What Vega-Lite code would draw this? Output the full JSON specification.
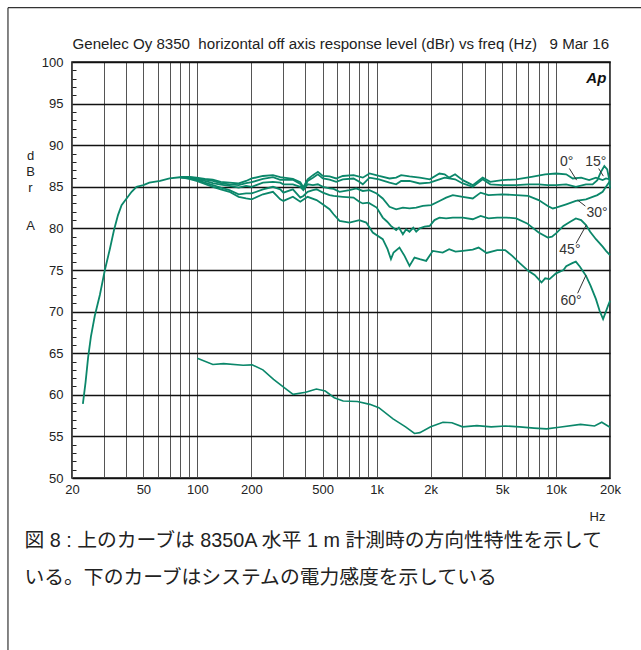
{
  "$schema": "https://vega.github.io/schema/vega-lite/v6.json",
  "width": 538,
  "height": 416,
  "autosize": "none",
  "padding": {"left": 72, "top": 62, "right": 31, "bottom": 172},
  "background": "white",
  "config": {"view": {"stroke": "#111", "strokeWidth": 1.6}},
  "resolve": {"axis": {"x": "independent", "y": "independent"}},
  "datasets": {
    "upper": [
      {"angle":"0°","f":23,"db":58.9},{"angle":"0°","f":23.8,"db":61.5},{"angle":"0°","f":24.6,"db":64.5},{"angle":"0°","f":25.5,"db":67.0},{"angle":"0°","f":26.8,"db":69.5},{"angle":"0°","f":28.6,"db":72.0},{"angle":"0°","f":30.5,"db":75.0},{"angle":"0°","f":32.5,"db":77.5},{"angle":"0°","f":34.3,"db":79.8},{"angle":"0°","f":36.1,"db":81.6},{"angle":"0°","f":37.8,"db":82.8},{"angle":"0°","f":40.3,"db":83.6},{"angle":"0°","f":43,"db":84.4},{"angle":"0°","f":45.8,"db":85.0},{"angle":"0°","f":50,"db":85.2},{"angle":"0°","f":54,"db":85.5},{"angle":"0°","f":62,"db":85.7},{"angle":"0°","f":70,"db":86.0},{"angle":"0°","f":80,"db":86.15},{"angle":"0°","f":90,"db":86.2},{"angle":"0°","f":99,"db":86.1},{"angle":"0°","f":110,"db":85.95},{"angle":"0°","f":122,"db":85.85},{"angle":"0°","f":135,"db":85.6},{"angle":"0°","f":151,"db":85.5},{"angle":"0°","f":170,"db":85.4},{"angle":"0°","f":187,"db":85.7},{"angle":"0°","f":201,"db":86.0},{"angle":"0°","f":232,"db":86.3},{"angle":"0°","f":264,"db":86.4},{"angle":"0°","f":290,"db":86.15},{"angle":"0°","f":341,"db":85.95},{"angle":"0°","f":375,"db":85.55},{"angle":"0°","f":390,"db":84.95},{"angle":"0°","f":412,"db":85.9},{"angle":"0°","f":441,"db":86.4},{"angle":"0°","f":470,"db":86.8},{"angle":"0°","f":501,"db":86.3},{"angle":"0°","f":546,"db":86.25},{"angle":"0°","f":595,"db":86.0},{"angle":"0°","f":647,"db":86.3},{"angle":"0°","f":743,"db":86.4},{"angle":"0°","f":837,"db":86.1},{"angle":"0°","f":912,"db":86.6},{"angle":"0°","f":1030,"db":86.3},{"angle":"0°","f":1179,"db":86.0},{"angle":"0°","f":1284,"db":86.1},{"angle":"0°","f":1369,"db":86.4},{"angle":"0°","f":1524,"db":86.25},{"angle":"0°","f":1738,"db":86.1},{"angle":"0°","f":1978,"db":85.9},{"angle":"0°","f":2239,"db":86.6},{"angle":"0°","f":2393,"db":86.5},{"angle":"0°","f":2536,"db":86.1},{"angle":"0°","f":2736,"db":86.5},{"angle":"0°","f":3019,"db":85.8},{"angle":"0°","f":3434,"db":85.2},{"angle":"0°","f":3900,"db":86.1},{"angle":"0°","f":4300,"db":85.6},{"angle":"0°","f":5000,"db":85.8},{"angle":"0°","f":6000,"db":85.9},{"angle":"0°","f":7300,"db":86.2},{"angle":"0°","f":8700,"db":86.5},{"angle":"0°","f":10000,"db":86.6},{"angle":"0°","f":11400,"db":86.5},{"angle":"0°","f":12400,"db":86.0},{"angle":"0°","f":13800,"db":86.1},{"angle":"0°","f":15300,"db":85.8},{"angle":"0°","f":16700,"db":86.1},{"angle":"0°","f":18200,"db":85.8},{"angle":"0°","f":19000,"db":86.0},{"angle":"0°","f":20000,"db":85.9},
      {"angle":"15°","f":80,"db":86.15},{"angle":"15°","f":90,"db":86.15},{"angle":"15°","f":99,"db":86.0},{"angle":"15°","f":110,"db":85.85},{"angle":"15°","f":122,"db":85.7},{"angle":"15°","f":135,"db":85.45},{"angle":"15°","f":151,"db":85.3},{"angle":"15°","f":170,"db":85.2},{"angle":"15°","f":187,"db":85.45},{"angle":"15°","f":201,"db":85.55},{"angle":"15°","f":232,"db":85.95},{"angle":"15°","f":264,"db":86.15},{"angle":"15°","f":290,"db":85.85},{"angle":"15°","f":341,"db":85.85},{"angle":"15°","f":375,"db":85.35},{"angle":"15°","f":390,"db":84.7},{"angle":"15°","f":412,"db":85.7},{"angle":"15°","f":441,"db":86.1},{"angle":"15°","f":470,"db":86.5},{"angle":"15°","f":501,"db":86.0},{"angle":"15°","f":546,"db":85.85},{"angle":"15°","f":595,"db":85.6},{"angle":"15°","f":647,"db":85.9},{"angle":"15°","f":743,"db":86.0},{"angle":"15°","f":800,"db":85.6},{"angle":"15°","f":837,"db":85.3},{"angle":"15°","f":912,"db":86.1},{"angle":"15°","f":1030,"db":85.9},{"angle":"15°","f":1179,"db":85.5},{"angle":"15°","f":1284,"db":85.3},{"angle":"15°","f":1369,"db":85.7},{"angle":"15°","f":1524,"db":85.7},{"angle":"15°","f":1738,"db":85.4},{"angle":"15°","f":1978,"db":85.5},{"angle":"15°","f":2239,"db":85.9},{"angle":"15°","f":2393,"db":86.1},{"angle":"15°","f":2736,"db":85.9},{"angle":"15°","f":3019,"db":85.4},{"angle":"15°","f":3434,"db":85.0},{"angle":"15°","f":3900,"db":85.9},{"angle":"15°","f":4300,"db":85.3},{"angle":"15°","f":5000,"db":85.2},{"angle":"15°","f":6000,"db":85.2},{"angle":"15°","f":7000,"db":85.3},{"angle":"15°","f":8000,"db":85.3},{"angle":"15°","f":9000,"db":85.2},{"angle":"15°","f":10000,"db":85.2},{"angle":"15°","f":11400,"db":85.3},{"angle":"15°","f":12900,"db":85.0},{"angle":"15°","f":14700,"db":85.3},{"angle":"15°","f":16000,"db":85.3},{"angle":"15°","f":17000,"db":85.8},{"angle":"15°","f":17800,"db":86.8},{"angle":"15°","f":18600,"db":87.5},{"angle":"15°","f":19300,"db":87.1},{"angle":"15°","f":19800,"db":85.9},{"angle":"15°","f":20000,"db":84.8},
      {"angle":"30°","f":80,"db":86.15},{"angle":"30°","f":90,"db":86.1},{"angle":"30°","f":99,"db":85.9},{"angle":"30°","f":110,"db":85.7},{"angle":"30°","f":122,"db":85.45},{"angle":"30°","f":135,"db":85.25},{"angle":"30°","f":151,"db":85.1},{"angle":"30°","f":170,"db":84.9},{"angle":"30°","f":187,"db":85.1},{"angle":"30°","f":201,"db":85.0},{"angle":"30°","f":232,"db":85.5},{"angle":"30°","f":264,"db":85.6},{"angle":"30°","f":290,"db":85.5},{"angle":"30°","f":302,"db":85.3},{"angle":"30°","f":341,"db":85.3},{"angle":"30°","f":375,"db":85.0},{"angle":"30°","f":390,"db":84.6},{"angle":"30°","f":412,"db":85.3},{"angle":"30°","f":441,"db":85.2},{"angle":"30°","f":470,"db":85.3},{"angle":"30°","f":501,"db":85.0},{"angle":"30°","f":546,"db":84.8},{"angle":"30°","f":575,"db":84.75},{"angle":"30°","f":621,"db":84.4},{"angle":"30°","f":705,"db":84.6},{"angle":"30°","f":769,"db":84.8},{"angle":"30°","f":837,"db":84.5},{"angle":"30°","f":912,"db":84.6},{"angle":"30°","f":1000,"db":84.2},{"angle":"30°","f":1081,"db":83.6},{"angle":"30°","f":1179,"db":82.6},{"angle":"30°","f":1284,"db":82.3},{"angle":"30°","f":1400,"db":82.5},{"angle":"30°","f":1524,"db":82.4},{"angle":"30°","f":1661,"db":82.5},{"angle":"30°","f":1808,"db":82.7},{"angle":"30°","f":2013,"db":82.8},{"angle":"30°","f":2240,"db":83.3},{"angle":"30°","f":2440,"db":83.7},{"angle":"30°","f":2657,"db":84.0},{"angle":"30°","f":3019,"db":83.8},{"angle":"30°","f":3434,"db":83.6},{"angle":"30°","f":3800,"db":84.3},{"angle":"30°","f":4200,"db":84.0},{"angle":"30°","f":5000,"db":84.1},{"angle":"30°","f":6000,"db":84.0},{"angle":"30°","f":7000,"db":83.9},{"angle":"30°","f":8000,"db":83.4},{"angle":"30°","f":9000,"db":82.7},{"angle":"30°","f":9600,"db":82.4},{"angle":"30°","f":10000,"db":82.5},{"angle":"30°","f":11400,"db":82.9},{"angle":"30°","f":12900,"db":83.3},{"angle":"30°","f":14700,"db":83.5},{"angle":"30°","f":16000,"db":83.8},{"angle":"30°","f":17000,"db":84.0},{"angle":"30°","f":18200,"db":84.4},{"angle":"30°","f":19000,"db":85.0},{"angle":"30°","f":20000,"db":85.7},
      {"angle":"45°","f":80,"db":86.15},{"angle":"45°","f":90,"db":86.0},{"angle":"45°","f":99,"db":85.8},{"angle":"45°","f":110,"db":85.5},{"angle":"45°","f":122,"db":85.2},{"angle":"45°","f":135,"db":84.9},{"angle":"45°","f":151,"db":84.6},{"angle":"45°","f":170,"db":84.1},{"angle":"45°","f":187,"db":84.2},{"angle":"45°","f":201,"db":84.2},{"angle":"45°","f":232,"db":84.7},{"angle":"45°","f":264,"db":85.0},{"angle":"45°","f":290,"db":84.7},{"angle":"45°","f":302,"db":84.3},{"angle":"45°","f":341,"db":84.7},{"angle":"45°","f":375,"db":83.7},{"angle":"45°","f":390,"db":83.9},{"angle":"45°","f":412,"db":84.4},{"angle":"45°","f":441,"db":84.6},{"angle":"45°","f":462,"db":84.7},{"angle":"45°","f":501,"db":84.3},{"angle":"45°","f":546,"db":84.0},{"angle":"45°","f":575,"db":83.9},{"angle":"45°","f":647,"db":83.8},{"angle":"45°","f":743,"db":83.7},{"angle":"45°","f":800,"db":83.2},{"angle":"45°","f":837,"db":83.0},{"angle":"45°","f":900,"db":83.1},{"angle":"45°","f":1000,"db":82.5},{"angle":"45°","f":1081,"db":81.3},{"angle":"45°","f":1145,"db":80.8},{"angle":"45°","f":1200,"db":80.3},{"angle":"45°","f":1284,"db":79.8},{"angle":"45°","f":1330,"db":80.1},{"angle":"45°","f":1400,"db":79.3},{"angle":"45°","f":1460,"db":79.9},{"angle":"45°","f":1524,"db":79.6},{"angle":"45°","f":1600,"db":80.1},{"angle":"45°","f":1661,"db":79.6},{"angle":"45°","f":1738,"db":80.0},{"angle":"45°","f":1850,"db":80.2},{"angle":"45°","f":1978,"db":80.3},{"angle":"45°","f":2100,"db":81.0},{"angle":"45°","f":2239,"db":81.3},{"angle":"45°","f":2440,"db":81.2},{"angle":"45°","f":2657,"db":81.3},{"angle":"45°","f":3019,"db":81.3},{"angle":"45°","f":3434,"db":81.1},{"angle":"45°","f":3800,"db":81.5},{"angle":"45°","f":4200,"db":81.2},{"angle":"45°","f":4700,"db":81.3},{"angle":"45°","f":5300,"db":81.3},{"angle":"45°","f":6000,"db":81.2},{"angle":"45°","f":6900,"db":80.6},{"angle":"45°","f":8000,"db":79.5},{"angle":"45°","f":9000,"db":78.9},{"angle":"45°","f":9500,"db":79.0},{"angle":"45°","f":10000,"db":79.4},{"angle":"45°","f":11000,"db":80.3},{"angle":"45°","f":12000,"db":80.8},{"angle":"45°","f":12900,"db":81.2},{"angle":"45°","f":13800,"db":81.0},{"angle":"45°","f":14700,"db":80.4},{"angle":"45°","f":15500,"db":79.6},{"angle":"45°","f":16700,"db":78.7},{"angle":"45°","f":18200,"db":77.8},{"angle":"45°","f":19000,"db":77.3},{"angle":"45°","f":20000,"db":76.8},
      {"angle":"60°","f":80,"db":86.15},{"angle":"60°","f":90,"db":85.95},{"angle":"60°","f":99,"db":85.7},{"angle":"60°","f":110,"db":85.35},{"angle":"60°","f":122,"db":85.0},{"angle":"60°","f":135,"db":84.7},{"angle":"60°","f":151,"db":84.4},{"angle":"60°","f":170,"db":83.8},{"angle":"60°","f":187,"db":83.6},{"angle":"60°","f":201,"db":83.5},{"angle":"60°","f":232,"db":84.1},{"angle":"60°","f":264,"db":84.4},{"angle":"60°","f":290,"db":83.5},{"angle":"60°","f":302,"db":83.3},{"angle":"60°","f":341,"db":83.8},{"angle":"60°","f":375,"db":83.2},{"angle":"60°","f":412,"db":83.8},{"angle":"60°","f":462,"db":83.4},{"angle":"60°","f":500,"db":82.9},{"angle":"60°","f":546,"db":82.3},{"angle":"60°","f":575,"db":81.7},{"angle":"60°","f":621,"db":80.9},{"angle":"60°","f":705,"db":80.7},{"angle":"60°","f":800,"db":81.0},{"angle":"60°","f":875,"db":80.7},{"angle":"60°","f":951,"db":79.5},{"angle":"60°","f":1081,"db":78.7},{"angle":"60°","f":1150,"db":77.5},{"angle":"60°","f":1201,"db":76.3},{"angle":"60°","f":1242,"db":77.1},{"angle":"60°","f":1340,"db":77.7},{"angle":"60°","f":1430,"db":76.7},{"angle":"60°","f":1524,"db":75.5},{"angle":"60°","f":1625,"db":76.5},{"angle":"60°","f":1738,"db":76.3},{"angle":"60°","f":1888,"db":76.1},{"angle":"60°","f":2056,"db":77.3},{"angle":"60°","f":2335,"db":77.1},{"angle":"60°","f":2536,"db":77.5},{"angle":"60°","f":2750,"db":77.2},{"angle":"60°","f":3019,"db":77.3},{"angle":"60°","f":3434,"db":77.45},{"angle":"60°","f":3700,"db":77.7},{"angle":"60°","f":4100,"db":77.05},{"angle":"60°","f":4700,"db":77.4},{"angle":"60°","f":5200,"db":77.4},{"angle":"60°","f":5700,"db":76.7},{"angle":"60°","f":6300,"db":75.8},{"angle":"60°","f":7000,"db":74.9},{"angle":"60°","f":7600,"db":74.4},{"angle":"60°","f":8300,"db":73.5},{"angle":"60°","f":8700,"db":74.0},{"angle":"60°","f":9200,"db":73.9},{"angle":"60°","f":10000,"db":74.6},{"angle":"60°","f":11000,"db":75.0},{"angle":"60°","f":11400,"db":75.45},{"angle":"60°","f":12400,"db":75.85},{"angle":"60°","f":12900,"db":76.0},{"angle":"60°","f":13600,"db":75.4},{"angle":"60°","f":14700,"db":74.3},{"angle":"60°","f":15600,"db":73.1},{"angle":"60°","f":16700,"db":71.5},{"angle":"60°","f":17500,"db":70.1},{"angle":"60°","f":18300,"db":69.1},{"angle":"60°","f":18900,"db":69.9},{"angle":"60°","f":19500,"db":70.7},{"angle":"60°","f":20000,"db":71.3}
    ],
    "lower": [
      {"f":100,"db":64.4},{"f":122,"db":63.65},{"f":140,"db":63.75},{"f":180,"db":63.55},{"f":202,"db":63.6},{"f":232,"db":63.0},{"f":266,"db":61.85},{"f":305,"db":60.85},{"f":342,"db":60.05},{"f":402,"db":60.3},{"f":461,"db":60.7},{"f":517,"db":60.45},{"f":580,"db":59.65},{"f":650,"db":59.25},{"f":780,"db":59.2},{"f":916,"db":58.85},{"f":1028,"db":58.45},{"f":1234,"db":57.1},{"f":1449,"db":56.15},{"f":1625,"db":55.35},{"f":1741,"db":55.45},{"f":2000,"db":56.15},{"f":2343,"db":56.7},{"f":2628,"db":56.65},{"f":3013,"db":56.15},{"f":3620,"db":56.3},{"f":4350,"db":56.15},{"f":5223,"db":56.25},{"f":6270,"db":56.15},{"f":7540,"db":56.0},{"f":8850,"db":55.9},{"f":10400,"db":56.1},{"f":13700,"db":56.45},{"f":16400,"db":56.25},{"f":17990,"db":56.7},{"f":20000,"db":56.1}
    ],
    "labels": [
      {"t":"0°","f":11470,"db":88.04},{"t":"15°","f":16675,"db":88.02},{"t":"30°","f":16940,"db":81.87},{"t":"45°","f":11950,"db":77.45},{"t":"60°","f":12135,"db":71.27}
    ],
    "leaders": [
      {"f":11870,"db":87.2,"f2":13030,"db2":85.8},{"f":17290,"db":87.2,"f2":18370,"db2":86.28},{"f":13200,"db":83.4,"f2":14580,"db2":82.68},{"f":14760,"db":80.4,"f2":12940,"db2":78.2},{"f":14710,"db":74.4,"f2":13200,"db2":72.2}
    ],
    "logo": [{"t":"Ap","f":19080,"db":98.1}],
    "frame": [{"f":8.79,"db":106.53,"fend":1000000,"dbend":20}]
  },
  "layer": [
    {
      "data": {"name": "upper"},
      "mark": {"type": "line", "color": "#0b876a", "strokeWidth": 1.8},
      "encoding": {
        "x": {"field": "f", "type": "quantitative", "scale": {"type": "log", "domain": [20, 20000], "nice": false},
          "axis": {"orient": "bottom", "values": [20,30,40,50,60,70,80,90,100,200,300,400,500,600,700,800,900,1000,2000,3000,4000,5000,6000,7000,8000,9000,10000,20000],
            "labelExpr": "indexof([20,50,100,200,500,1000,2000,5000,10000,20000], datum.value) >= 0 ? (datum.value >= 1000 ? (datum.value / 1000) + 'k' : '' + datum.value) : ''",
            "grid": true, "gridColor": "#555", "gridWidth": 1, "domain": false, "ticks": false,
            "labelPadding": 5, "labelFlush": false, "labelOverlap": false, "labelFont": "Liberation Sans", "labelFontSize": 13, "labelColor": "#222",
            "title": ["図 8 : 上のカーブは 8350A 水平 1 m 計測時の方向性特性を示して", "いる。下のカーブはシステムの電力感度を示している"],
            "titleX": -48, "titleY": 52, "titleAlign": "left", "titleAnchor": "start", "titleBaseline": "top",
            "titleFont": "Liberation Sans, Noto Sans CJK JP", "titleFontSize": 19.8, "titleFontWeight": "normal", "titleColor": "#222", "titleLineHeight": 37, "titleLimit": 1000}},
        "y": {"field": "db", "type": "quantitative", "scale": {"domain": [50, 100], "nice": false, "zero": false},
          "axis": {"orient": "left", "values": [50,55,60,65,70,75,80,85,90,95,100],
            "grid": true, "gridColor": "#111", "gridWidth": 1.6,
            "domain": false, "ticks": false,
            "labelPadding": 9, "labelOverlap": false, "labelFont": "Liberation Sans", "labelFontSize": 13, "labelColor": "#222",
            "title": ["d", "B", "r"], "titleAngle": 0, "titleX": -42, "titleY": 87, "titleAlign": "center", "titleBaseline": "top",
            "titleFont": "Liberation Sans", "titleFontSize": 13, "titleFontWeight": "normal", "titleColor": "#222", "titleLineHeight": 16.2}},
        "detail": {"field": "angle"}
      }
    },
    {
      "data": {"name": "lower"},
      "mark": {"type": "line", "color": "#0b876a", "strokeWidth": 1.6},
      "encoding": {
        "x": {"field": "f", "type": "quantitative", "scale": {"type": "log", "domain": [20, 20000], "nice": false},
          "axis": {"orient": "top", "domain": false, "ticks": false, "labels": false, "grid": false,
            "title": "Genelec Oy 8350\u00a0 horizontal off axis response level (dBr) vs freq (Hz)\u00a0\u00a0 9 Mar 16",
            "titleX": 0, "titleY": -14, "titleAlign": "left", "titleAnchor": "start", "titleBaseline": "alphabetic",
            "titleFont": "Liberation Sans", "titleFontSize": 15.1, "titleFontWeight": "normal", "titleColor": "#222", "titleLimit": 1000}},
        "y": {"field": "db", "type": "quantitative", "scale": {"domain": [50, 100], "nice": false, "zero": false},
          "axis": {"orient": "left", "offset": -4, "values": [51,52,53,54,56,57,58,59,61,62,63,64,66,67,68,69,71,72,73,74,76,77,78,79,81,82,83,84,86,87,88,89,91,92,93,94,96,97,98,99],
            "domain": false, "labels": false, "grid": false, "ticks": true, "tickSize": 4, "tickColor": "#222", "tickWidth": 1,
            "title": "A", "titleAngle": 0, "titleX": -46, "titleY": 157.5, "titleAlign": "center", "titleBaseline": "top",
            "titleFont": "Liberation Sans", "titleFontSize": 13, "titleFontWeight": "normal", "titleColor": "#222"}}
      }
    },
    {
      "data": {"name": "leaders"},
      "mark": {"type": "rule", "color": "#333", "strokeWidth": 1},
      "encoding": {
        "x": {"field": "f", "type": "quantitative", "scale": {"type": "log", "domain": [20, 20000], "nice": false}, "axis": null},
        "x2": {"field": "f2"},
        "y": {"field": "db", "type": "quantitative", "scale": {"domain": [50, 100], "nice": false, "zero": false}, "axis": null},
        "y2": {"field": "db2"}
      }
    },
    {
      "data": {"name": "labels"},
      "mark": {"type": "text", "font": "Liberation Sans", "fontSize": 14, "color": "#333", "align": "center", "baseline": "middle"},
      "encoding": {
        "x": {"field": "f", "type": "quantitative", "scale": {"type": "log", "domain": [20, 20000], "nice": false},
          "axis": {"orient": "bottom", "domain": false, "ticks": false, "labels": false, "grid": false,
            "title": "Hz", "titleX": 533, "titleY": 42, "titleAlign": "right", "titleAnchor": "end", "titleBaseline": "alphabetic",
            "titleFont": "Liberation Sans", "titleFontSize": 13, "titleFontWeight": "normal", "titleColor": "#222"}},
        "y": {"field": "db", "type": "quantitative", "scale": {"domain": [50, 100], "nice": false, "zero": false}, "axis": null},
        "text": {"field": "t"}
      }
    },
    {
      "data": {"name": "logo"},
      "mark": {"type": "text", "font": "Liberation Sans", "fontSize": 15, "fontWeight": "bold", "fontStyle": "italic", "color": "#111", "align": "right", "baseline": "middle"},
      "encoding": {
        "x": {"field": "f", "type": "quantitative", "scale": {"type": "log", "domain": [20, 20000], "nice": false}, "axis": null},
        "y": {"field": "db", "type": "quantitative", "scale": {"domain": [50, 100], "nice": false, "zero": false}, "axis": null},
        "text": {"field": "t"}
      }
    },
    {
      "data": {"name": "frame"},
      "mark": {"type": "rule", "color": "#333", "strokeWidth": 1.2},
      "encoding": {
        "x": {"field": "f", "type": "quantitative", "scale": {"type": "log", "domain": [20, 20000], "nice": false}, "axis": null},
        "y": {"field": "db", "type": "quantitative", "scale": {"domain": [50, 100], "nice": false, "zero": false}, "axis": null},
        "y2": {"field": "dbend"}
      }
    },
    {
      "data": {"name": "frame"},
      "mark": {"type": "rule", "color": "#333", "strokeWidth": 1.2},
      "encoding": {
        "x": {"field": "f", "type": "quantitative", "scale": {"type": "log", "domain": [20, 20000], "nice": false}, "axis": null},
        "x2": {"field": "fend"},
        "y": {"field": "db", "type": "quantitative", "scale": {"domain": [50, 100], "nice": false, "zero": false}, "axis": null}
      }
    }
  ]
}
